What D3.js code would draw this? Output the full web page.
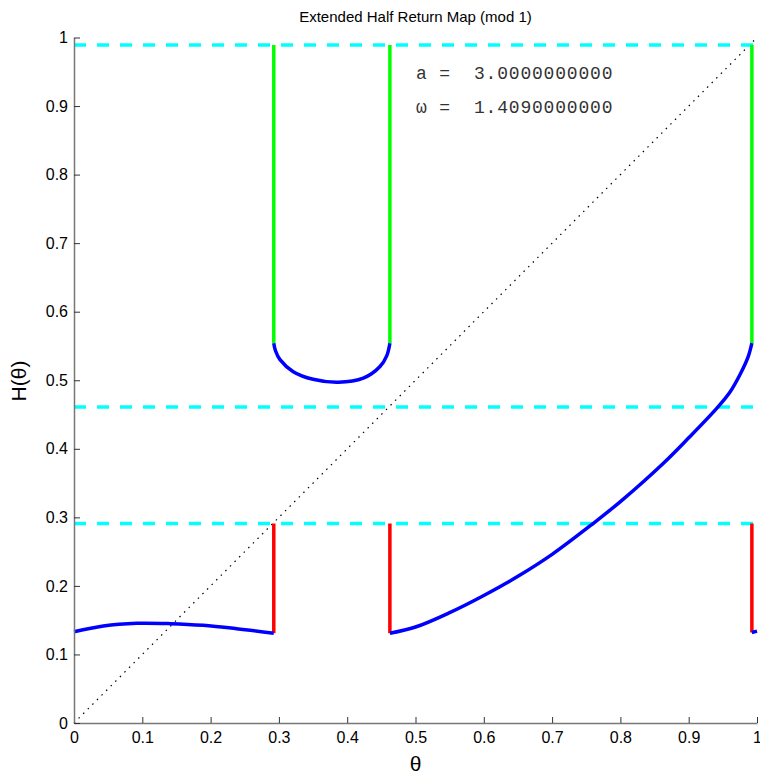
<!DOCTYPE html>
<html>
<head>
<meta charset="UTF-8">
<script src="https://cdn.jsdelivr.net/npm/d3@7"></script>
<style>
    body { margin: 0; background: #fff; }
    text { font-family: 'Liberation Sans', Arial, sans-serif; }
    .mono { font-family: 'Liberation Mono', 'Courier New', monospace; }
</style>
</head>
<body>
<svg id="chart" width="760" height="778"></svg>
<script>
// blue branches of H(theta)
var branchLeft = [[0, 0.133], [0.043, 0.1415], [0.092, 0.1454], [0.141, 0.1449], [0.189, 0.1425], [0.238, 0.1376], [0.2925, 0.131]];
var branchCup = [[0.2925, 0.554], [0.295, 0.543], [0.3016, 0.530], [0.321, 0.5125], [0.350, 0.5014], [0.387, 0.497], [0.4236, 0.503], [0.448, 0.520], [0.458, 0.536], [0.4625, 0.554]];
var branchRise = [[0.4625, 0.131], [0.50, 0.140], [0.55, 0.161], [0.60, 0.186], [0.65, 0.214], [0.70, 0.246], [0.76, 0.291], [0.80, 0.323], [0.863, 0.379], [0.90, 0.416], [0.941, 0.459], [0.960, 0.482], [0.975, 0.508], [0.987, 0.534], [0.9925, 0.554]];
var branchRight = [[0.9925, 0.132], [1.0, 0.134]];

// cyan dashed levels, red and green jumps
var levels = [0.989, 0.461, 0.291];
var redJumps = [[0.2925, 0.131, 0.291], [0.4625, 0.131, 0.291], [0.9925, 0.132, 0.291]];
var greenJumps = [[0.2925, 0.554, 0.989], [0.4625, 0.554, 0.989], [0.9925, 0.554, 0.989]];

var xTicks = [0, 0.1, 0.2, 0.3, 0.4, 0.5, 0.6, 0.7, 0.8, 0.9, 1];
var yTicks = [0, 0.1, 0.2, 0.3, 0.4, 0.5, 0.6, 0.7, 0.8, 0.9, 1];
var params = ["a =  3.0000000000", "\u03c9 =  1.4090000000"];

var svg = d3.select("#chart");
var x = d3.scaleLinear().domain([0, 1]).range([74, 757]);
var y = d3.scaleLinear().domain([0, 1]).range([723, 37.5]);

var plot = svg.append("g");

// diagonal
plot.append("line")
    .attr("x1", x(0)).attr("y1", y(0))
    .attr("x2", x(1)).attr("y2", y(1))
    .attr("stroke", "#000").attr("stroke-width", 1.2)
    .attr("stroke-dasharray", "1.5,5");

// dashed levels
plot.selectAll(".level").data(levels).enter().append("line")
    .attr("x1", x(0)).attr("x2", x(1))
    .attr("y1", function (d) { return y(d); })
    .attr("y2", function (d) { return y(d); })
    .attr("stroke", "#00ffff").attr("stroke-width", 3.5)
    .attr("stroke-dasharray", "12,11");

plot.selectAll(".red").data(redJumps).enter().append("line")
    .attr("x1", function (d) { return x(d[0]); })
    .attr("x2", function (d) { return x(d[0]); })
    .attr("y1", function (d) { return y(d[1]); })
    .attr("y2", function (d) { return y(d[2]); })
    .attr("stroke", "#ff0000").attr("stroke-width", 3.5);

plot.selectAll(".green").data(greenJumps).enter().append("line")
    .attr("x1", function (d) { return x(d[0]); })
    .attr("x2", function (d) { return x(d[0]); })
    .attr("y1", function (d) { return y(d[1]); })
    .attr("y2", function (d) { return y(d[2]); })
    .attr("stroke", "#00ff00").attr("stroke-width", 3.5);

var line = d3.line()
    .x(function (d) { return x(d[0]); })
    .y(function (d) { return y(d[1]); })
    .curve(d3.curveCatmullRom);

plot.selectAll(".branch").data([branchLeft, branchCup, branchRise, branchRight]).enter().append("path")
    .attr("d", line)
    .attr("fill", "none")
    .attr("stroke", "#0000ff").attr("stroke-width", 3.5);

// axes, ticks pointing inward
var xAxis = svg.append("g").attr("transform", "translate(0," + y(0) + ")")
    .call(d3.axisBottom(x).tickValues(xTicks).tickSize(0).tickPadding(9).tickFormat(d3.format("")));
xAxis.selectAll(".tick line").attr("y2", -6).attr("stroke", "#333");
xAxis.select(".domain").attr("stroke", "#777").attr("stroke-width", 1.5);
xAxis.selectAll("text").attr("font-size", 16).attr("fill", "#000")
    .style("font-family", "'Liberation Sans', Arial, sans-serif");

var yAxis = svg.append("g").attr("transform", "translate(" + x(0) + ",0)")
    .call(d3.axisLeft(y).tickValues(yTicks).tickSize(0).tickPadding(6).tickFormat(d3.format("")));
yAxis.selectAll(".tick line").attr("x2", 6).attr("stroke", "#333");
yAxis.select(".domain").attr("stroke", "#777").attr("stroke-width", 1.5);
yAxis.selectAll("text").attr("font-size", 16).attr("fill", "#000")
    .style("font-family", "'Liberation Sans', Arial, sans-serif");

// labels
svg.append("text").attr("x", 415.5).attr("y", 22).attr("text-anchor", "middle")
    .attr("font-size", 15).text("Extended Half Return Map (mod 1)");
svg.append("text").attr("x", 415.5).attr("y", 771).attr("text-anchor", "middle")
    .attr("font-size", 21).text("\u03b8");
svg.append("text").attr("transform", "translate(26,381) rotate(-90)").attr("text-anchor", "middle")
    .attr("font-size", 21).text("H(\u03b8)");

svg.selectAll(".param").data(params).enter().append("text")
    .attr("class", "mono")
    .attr("x", 416)
    .attr("y", function (d, i) { return 78.5 + i * 34.5; })
    .attr("font-size", 18)
    .attr("letter-spacing", 0.8)
    .attr("fill", "#333")
    .attr("xml:space", "preserve")
    .style("white-space", "pre")
    .text(function (d) { return d; });
</script>
</body>
</html>
